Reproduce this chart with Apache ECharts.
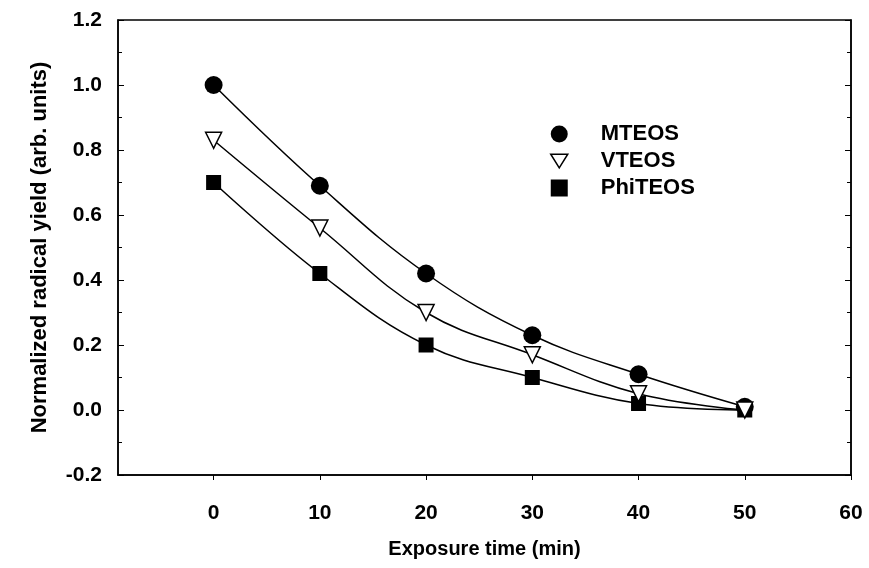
<!DOCTYPE html>
<html>
	<head>
		<meta charset="UTF-8">
		<title></title>
		<script src="https://cdn.jsdelivr.net/npm/echarts@6/dist/echarts.min.js" type="text/javascript" charset="utf-8"></script>
	</head>
	<body style="margin: 0;">
		<div id="chart" style="width: 869px;height: 568px;"></div>
		<script type="text/javascript">
			var times = [0, 10, 20, 30, 40, 50];
			var mteos = [1.0, 0.69, 0.42, 0.23, 0.11, 0.01];
			var vteos = [0.83, 0.56, 0.30, 0.17, 0.05, 0.0];
			var phiteos = [0.70, 0.42, 0.20, 0.10, 0.02, 0.0];
			var xTicks = [0, 10, 20, 30, 40, 50, 60];

			var font = 'Liberation Sans';
			var triDown = 'path://M0,0 L10,0 L5,8 Z';

			function pairs(ys) {
				return times.map((t, i) => [t, ys[i]]);
			}

			function makeSeries(name, ys, symbol, size, fill) {
				return {
					name: name,
					type: 'line',
					data: pairs(ys),
					smooth: 0.4,
					symbol: symbol,
					symbolSize: size,
					showAllSymbol: true,
					lineStyle: {color: '#000', width: 1.5},
					itemStyle: {color: fill, borderColor: '#000', borderWidth: fill == '#fff' ? 1.5 : 0},
					emphasis: {disabled: true},
					z: fill == '#fff' ? 3 : 2
				};
			}

			var chart = echarts.init(document.getElementById('chart'));
			var option = {
				animation: false,
				textStyle: {fontFamily: font},
				grid: {left: 118, right: 18, top: 20, bottom: 93, show: true, borderColor: '#000', borderWidth: 1.5},
				legend: {
					orient: 'vertical',
					left: 545,
					top: 118,
					itemWidth: 17,
					itemHeight: 17,
					itemGap: 5,
					textStyle: {fontSize: 22, fontWeight: 'bold', color: '#000', padding: [0, 0, 0, 28]},
					data: [
						{name: 'MTEOS', icon: 'circle', itemStyle: {color: '#000'}},
						{name: 'VTEOS', icon: triDown, itemStyle: {color: '#fff', borderColor: '#000', borderWidth: 1.5}},
						{name: 'PhiTEOS', icon: 'rect', itemStyle: {color: '#000'}}
					]
				},
				xAxis: {
					type: 'value',
					min: -9,
					max: 60,
					name: 'Exposure time (min)',
					nameLocation: 'middle',
					nameGap: 64,
					nameTextStyle: {fontSize: 20, fontWeight: 'bold', color: '#000'},
					axisLine: {onZero: false, lineStyle: {color: '#000', width: 1.5}},
					axisTick: {show: true, inside: false, length: 5, customValues: xTicks, lineStyle: {color: '#000'}},
					axisLabel: {customValues: xTicks, margin: 28, fontSize: 21, fontWeight: 'bold', color: '#000'},
					splitLine: {show: false}
				},
				yAxis: [
					{
						type: 'value',
						min: -0.2,
						max: 1.2,
						interval: 0.2,
						name: 'Normalized radical yield (arb. units)',
						nameLocation: 'middle',
						nameGap: 67,
						nameTextStyle: {fontSize: 22, fontWeight: 'bold', color: '#000'},
						axisLine: {show: true, onZero: false, lineStyle: {color: '#000', width: 1.5}},
						axisTick: {show: true, inside: true, length: 6, lineStyle: {color: '#000'}},
						minorTick: {show: true, splitNumber: 2, length: 4, lineStyle: {color: '#000'}},
						axisLabel: {margin: 16, fontSize: 21, fontWeight: 'bold', color: '#000', formatter: v => v.toFixed(1)},
						splitLine: {show: false}
					},
					{
						type: 'value',
						position: 'right',
						min: -0.2,
						max: 1.2,
						interval: 0.2,
						axisLine: {show: true, onZero: false, lineStyle: {color: '#000', width: 1.5}},
						axisTick: {show: true, inside: true, length: 6, lineStyle: {color: '#000'}},
						minorTick: {show: true, splitNumber: 2, length: 4, lineStyle: {color: '#000'}},
						axisLabel: {show: false},
						splitLine: {show: false}
					}
				],
				series: [
					makeSeries('MTEOS', mteos, 'circle', 18, '#000'),
					makeSeries('VTEOS', vteos, 'triangle', 16, '#fff'),
					makeSeries('PhiTEOS', phiteos, 'rect', 15, '#000')
				]
			};
			// inverted triangle for VTEOS markers
			option.series[1].symbolRotate = 180;
			chart.setOption(option, true);
		</script>
	</body>
</html>
